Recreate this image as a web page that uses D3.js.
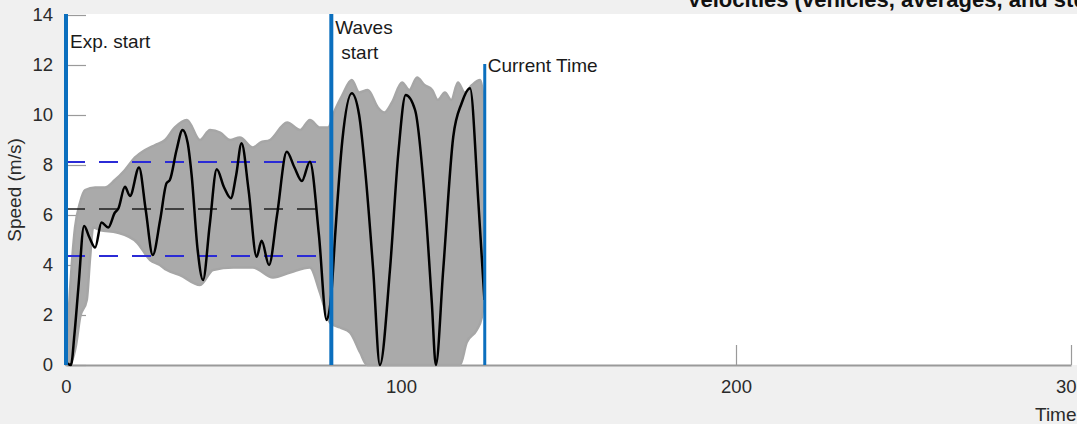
<!DOCTYPE html>
<html>
<head>
<meta charset="utf-8">
<script src="https://cdn.jsdelivr.net/npm/d3@7"></script>
<style>
  html, body { margin: 0; padding: 0; background: #f0f0f0; overflow: hidden; }
  svg { display: block; font-family: "Liberation Sans", Arial, Helvetica, sans-serif; }
</style>
</head>
<body>
<svg id="chart" width="1077" height="424"></svg>
<script>
// ---- data ----
const xTicks = [0, 100, 200, 300];
const yTicks = [0, 2, 4, 6, 8, 10, 12, 14];

// average speed (black line)
const meanTime = [0, 1.5, 2.5, 3.7, 5.4, 7, 8.7, 10.6, 12.6, 14.6, 15.6, 17.6, 19.1, 21.8, 23.8, 25.9, 28.1, 30, 31, 33, 34.8, 36.3, 37.5, 39.3, 40.9, 42.9, 45, 47.2, 49.2, 50.8, 52.4, 54.5, 56.9, 58.4, 60.6, 63, 65.9, 68.2, 70.4, 72.8, 75.5, 77.8, 79.3, 80.3, 82.5, 85.3, 87.5, 89.3, 91.7, 93.7, 96.7, 99.2, 101.4, 104.2, 107.2, 109.2, 110.4, 112.6, 115.6, 118.1, 120.6, 123.1, 124.9];
const meanSpeed = [0.1, 0, 1.2, 3.1, 5.56, 5.1, 4.7, 5.7, 5.5, 6.1, 6.25, 7.13, 6.76, 7.9, 6.2, 4.4, 5.8, 7.27, 7.4, 8.6, 9.4, 8.9, 7.6, 4.6, 3.4, 5.6, 7.83, 7.1, 6.67, 7.6, 8.87, 7.0, 4.33, 4.97, 4.0, 6.0, 8.53, 7.9, 7.36, 8.13, 5.2, 1.8, 3.0, 5.1, 9.0, 10.87, 10.0, 7.8, 3.8, 0, 3.8, 8.47, 10.8, 10.2, 6.47, 2.5, 0, 3.8, 9.13, 10.47, 11.07, 6.5, 2.6];

// envelope of the individual vehicle speeds (grey band)
const upperTime = [0, 1.2, 2.7, 4.2, 5.7, 8.7, 11.6, 14.6, 17.6, 20.6, 23.6, 26.6, 29.6, 32.5, 36.1, 40, 43, 46, 49, 51.9, 55.8, 58, 60.9, 66, 69.9, 72.8, 75.8, 78.2, 80.3, 82.5, 85.3, 87.5, 90.1, 93.1, 95, 97.3, 100.3, 102.5, 104.8, 107, 109.3, 111, 113.1, 115, 117, 119, 121.2, 123.6, 124.8];
const upperSpeed = [0.2, 3.0, 5.5, 6.5, 7.0, 7.1, 7.1, 7.4, 7.8, 8.3, 8.6, 8.8, 9.0, 9.5, 9.8, 9.0, 9.4, 9.3, 9.0, 9.1, 8.7, 8.9, 9.0, 9.7, 9.4, 9.8, 9.5, 9.5, 10.2, 10.8, 11.4, 10.9, 11.0, 10.3, 10.1, 10.5, 11.3, 11.0, 11.5, 11.2, 11.0, 10.6, 10.9, 10.6, 11.3, 10.9, 11.2, 11.4, 10.5];
const lowerTime = [0, 1.8, 3.0, 4.2, 6.2, 7.2, 8.1, 10.1, 15.2, 21.2, 25.1, 28, 30.1, 34, 40, 43.9, 49.9, 55.8, 61.8, 66.9, 72.8, 75.8, 78.8, 81.8, 84.8, 87.8, 89.9, 117.6, 119.6, 122.6, 124.1, 124.8];
const lowerSpeed = [0, 0.2, 0.8, 1.9, 2.6, 4.3, 5.5, 5.4, 5.3, 4.9, 4.2, 4.0, 3.8, 3.6, 3.2, 3.8, 3.9, 3.9, 3.5, 3.7, 3.9, 2.9, 1.7, 1.5, 1.3, 0.5, 0, 0, 0.9, 1.4, 1.9, 2.5];

// mean and +/- std over the experiment phase
const statLabels = ["mean + std", "mean", "mean - std"];
const statValues = [8.12, 6.24, 4.36];
const statRange = [0, 79.2];

// event markers
const eventNames = ["Exp. start", "Waves start", "Current Time"];
const eventTimes = [0, 79.2, 125];
const eventTops = [14, 14, 12];

const titleText = "Velocities (vehicles, averages, and std)";
const xLabel = "Time (s)";
const yLabel = "Speed (m/s)";

// ---- drawing ----
const svg = d3.select("#chart");
const W = 1077, H = 424;
const x = d3.scaleLinear().domain([0, 300]).range([66, 1071]);
const y = d3.scaleLinear().domain([0, 14]).range([365, 15]);

svg.append("rect").attr("width", W).attr("height", H).attr("fill", "#f0f0f0");
svg.append("rect")
  .attr("x", x(0)).attr("y", y(14) - 1)
  .attr("width", W - x(0) + 10).attr("height", y(0) - y(14) + 1)
  .attr("fill", "#ffffff");

// axes
const xAxis = d3.axisBottom(x).tickValues(xTicks).tickSizeInner(-20).tickSizeOuter(0).tickPadding(15);
const gx = svg.append("g").attr("transform", `translate(0,${y(0)})`).call(xAxis);
gx.select(".domain").attr("stroke", "#9a9a9a").attr("stroke-width", 2);
gx.selectAll(".tick line").attr("stroke", "#9a9a9a").attr("stroke-width", 1.2);
gx.selectAll(".tick text").attr("fill", "#2a2a2a").style("font-size", "18.5px");

const yAxis = d3.axisLeft(y).tickValues(yTicks).tickSizeInner(-20).tickSizeOuter(0).tickPadding(13);
const gy = svg.append("g").attr("transform", `translate(${x(0)},0)`).call(yAxis);
gy.select(".domain").remove();
gy.selectAll(".tick line").attr("stroke", "#9a9a9a").attr("stroke-width", 1.2);
gy.selectAll(".tick text").attr("fill", "#2a2a2a").style("font-size", "18.5px");

// grey envelope of vehicle speeds
const edge = d3.line().x(d => x(d[0])).y(d => y(d[1])).curve(d3.curveMonotoneX);
const upperPts = upperTime.map((t, i) => [t, upperSpeed[i]]);
const lowerPts = lowerTime.map((t, i) => [t, lowerSpeed[i]]).reverse();
const bandD = edge(upperPts) + "L" + edge(lowerPts).slice(1) + "Z";
svg.append("path")
  .attr("d", bandD)
  .attr("fill", "#aaaaaa")
  .attr("stroke", "#a6a6a6")
  .attr("stroke-width", 2.5)
  .attr("stroke-linejoin", "round");

// stat dashed lines
statValues.forEach((v, i) => {
  svg.append("line")
    .attr("x1", x(statRange[0])).attr("x2", x(statRange[1]))
    .attr("y1", y(v)).attr("y2", y(v))
    .attr("stroke", i === 1 ? "#1e1e1e" : "#2b2bd6")
    .attr("stroke-width", i === 1 ? 1.5 : 2)
    .attr("stroke-dasharray", "19,14");
});

// average line
const meanPts = meanTime.map((t, i) => [t, meanSpeed[i]]);
svg.append("path")
  .datum(meanPts)
  .attr("d", d3.line().x(d => x(d[0])).y(d => y(d[1])).curve(d3.curveMonotoneX))
  .attr("fill", "none")
  .attr("stroke", "#000")
  .attr("stroke-width", 2.5)
  .attr("stroke-linejoin", "round");

// event lines
eventTimes.forEach((t, i) => {
  svg.append("line")
    .attr("x1", x(t)).attr("x2", x(t))
    .attr("y1", y(0)).attr("y2", y(eventTops[i]) - 1)
    .attr("stroke", "#0b6fbe")
    .attr("stroke-width", i === 2 ? 3 : 4);
});

// event labels
const lab = svg.append("g").attr("fill", "#1a1a1a").style("font-size", "19px");
lab.append("text").attr("x", x(eventTimes[0]) + 4).attr("y", 48).text(eventNames[0]);
const wv = eventNames[1].split(" ");
lab.append("text").attr("x", x(eventTimes[1]) + 4).attr("y", 34).text(wv[0]);
lab.append("text").attr("x", x(eventTimes[1]) + 10).attr("y", 59).text(wv[1]);
lab.append("text").attr("x", x(eventTimes[2]) + 3).attr("y", 72).text(eventNames[2]);

// title and axis labels (cropped by the window, as in the reference)
svg.append("text").attr("x", 687).attr("y", 7)
  .attr("fill", "#111").style("font-size", "22px").style("font-weight", "bold")
  .text(titleText);
svg.append("text").attr("x", 1035).attr("y", 421)
  .attr("fill", "#2a2a2a").style("font-size", "19px").text(xLabel);
svg.append("text")
  .attr("transform", `translate(21,${y(7)}) rotate(-90)`)
  .attr("text-anchor", "middle")
  .attr("fill", "#2a2a2a").style("font-size", "19px").text(yLabel);
</script>
</body>
</html>
